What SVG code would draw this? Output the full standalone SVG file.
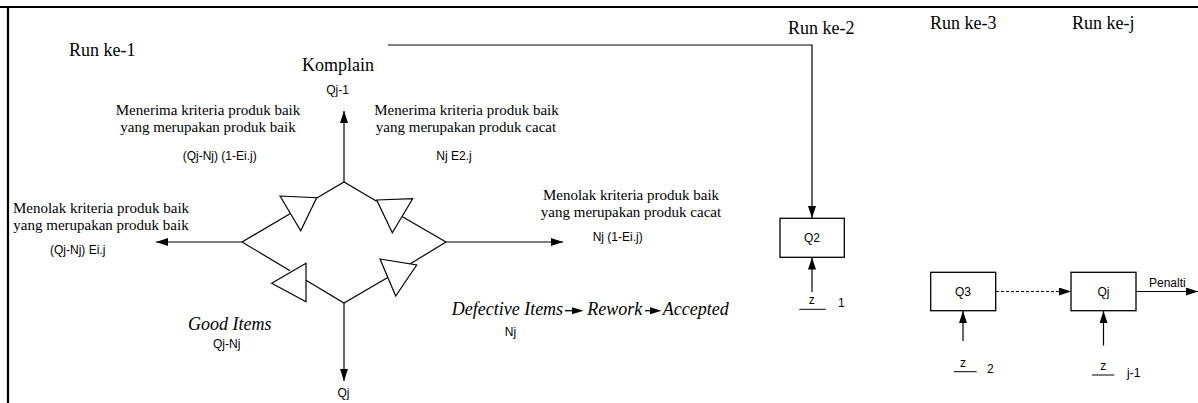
<svg xmlns="http://www.w3.org/2000/svg" width="1198" height="403" viewBox="0 0 1198 403">
  <defs>
    <marker id="arrow" markerUnits="userSpaceOnUse" markerWidth="12" markerHeight="8" refX="12" refY="4" orient="auto">
      <path d="M0,0 L12,4 L0,8 Z" fill="#000"/>
    </marker>
    <style>
      .line { fill: none; stroke: #000; stroke-width: 1.2; }
      .arr { fill: none; stroke: #000; stroke-width: 1.2; marker-end: url(#arrow); }
      .dash { stroke-dasharray: 3 2; }
      .valve { fill: #fff; stroke: #000; stroke-width: 1.2; }
      .box { fill: #fff; stroke: #000; stroke-width: 1.3; }
      .serif { font-family: "Liberation Serif", "Times New Roman", serif; fill: #000; }
      .run { font-size: 18px; }
      .desc { font-size: 15px; text-anchor: middle; }
      .ital { font-size: 18px; font-style: italic; }
      .sans { font-family: "Liberation Sans", Arial, sans-serif; font-size: 12px; fill: #000; }
      .mid { text-anchor: middle; }
    </style>
  </defs>

  <rect width="1198" height="403" fill="#fff"/>

  <!-- page frame (top and left edges) -->
  <g id="frame">
    <line x1="0" y1="7" x2="1198" y2="7" stroke="#000" stroke-width="2.2"/>
    <line x1="8" y1="6" x2="8" y2="403" stroke="#000" stroke-width="2.2"/>
  </g>

  <!-- run headings -->
  <g id="run-labels" class="serif run">
    <text x="69" y="56">Run ke-1</text>
    <text x="788" y="34">Run ke-2</text>
    <text x="930" y="29">Run ke-3</text>
    <text x="1072" y="29">Run ke-j</text>
  </g>

  <!-- inspection network of run 1 -->
  <g id="inspection-network">
    <polyline class="line" points="242,242 290,213.8"/>
    <polyline class="line" points="316.7,198 344,182 376.7,201.2"/>
    <polyline class="line" points="402,216.5 446,242"/>
    <polyline class="line" points="242,242 290,270.7"/>
    <polyline class="line" points="306,280.3 344,303 387.7,277.5"/>
    <polyline class="line" points="410,264 446,242"/>
    <polygon class="valve" points="280,196 316.7,197.7 300.7,230.7"/>
    <polygon class="valve" points="376.7,200 412.7,198.7 392.3,232.7"/>
    <polygon class="valve" points="271.7,283.3 306,263.3 306,301.7"/>
    <polygon class="valve" points="380,259 416.7,265 395.7,296"/>
  </g>

  <!-- connectors -->
  <g id="connectors">
    <line class="arr" x1="344" y1="182" x2="344" y2="111"/>
    <line class="arr" x1="344" y1="303" x2="344" y2="381"/>
    <line class="arr" x1="242" y1="242" x2="156" y2="242"/>
    <line class="arr" x1="446" y1="242" x2="563" y2="242"/>
    <polyline class="arr" points="388,45 812,45 812,218"/>
    <line class="arr" x1="812" y1="292" x2="812" y2="257.5"/>
    <line class="arr" x1="963" y1="341" x2="963" y2="311"/>
    <line class="arr" x1="1103.5" y1="345.5" x2="1103.5" y2="311"/>
    <line class="arr dash" x1="996" y1="291.5" x2="1071" y2="291.5"/>
    <line class="arr" x1="1136" y1="291.5" x2="1198" y2="291.5"/>
  </g>

  <!-- flow labels around the network -->
  <g id="network-labels">
    <text class="serif" x="302" y="71" font-size="18">Komplain</text>
    <text class="sans mid" x="337.5" y="94">Qj-1</text>

    <text class="serif desc" x="208" y="115">Menerima kriteria produk baik</text>
    <text class="serif desc" x="208" y="132">yang merupakan produk baik</text>
    <text class="sans mid" x="219.7" y="160">(Qj-Nj) (1-Ei.j)</text>

    <text class="serif desc" x="466.5" y="115">Menerima kriteria produk baik</text>
    <text class="serif desc" x="466" y="132">yang merupakan produk cacat</text>
    <text class="sans mid" x="454" y="159.5">Nj E2.j</text>

    <text class="serif desc" x="101" y="213">Menolak kriteria produk baik</text>
    <text class="serif desc" x="101" y="230">yang merupakan produk baik</text>
    <text class="sans mid" x="77.7" y="253.5">(Qj-Nj) Ei.j</text>

    <text class="serif desc" x="631" y="199.5">Menolak kriteria produk baik</text>
    <text class="serif desc" x="631" y="216.5">yang merupakan produk cacat</text>
    <text class="sans mid" x="617.7" y="241">Nj (1-Ei.j)</text>

    <text class="serif ital mid" x="229.7" y="329.5">Good Items</text>
    <text class="sans mid" x="226.7" y="348">Qj-Nj</text>
    <text class="sans mid" x="343.5" y="396.5">Qj</text>

    <text class="serif ital" x="451.7" y="315">Defective Items</text>
    <text class="serif ital" x="587.3" y="315">Rework</text>
    <text class="serif ital" x="662.7" y="315">Accepted</text>
    <g id="rework-arrows">
      <line x1="565" y1="310.7" x2="573" y2="310.7" stroke="#000" stroke-width="1.3"/>
      <path d="M572,307.2 L583.5,310.7 L572,314.2 Z" fill="#000"/>
      <line x1="645" y1="310.7" x2="651" y2="310.7" stroke="#000" stroke-width="1.3"/>
      <path d="M650,307.2 L661.5,310.7 L650,314.2 Z" fill="#000"/>
    </g>
    <text class="sans mid" x="510.5" y="336">Nj</text>
  </g>

  <!-- run 2 -->
  <g id="node-q2">
    <rect class="box" x="780" y="218.3" width="64.3" height="39"/>
    <text class="sans mid" x="812" y="242">Q2</text>
  </g>
  <g id="input-z1">
    <text class="sans mid" x="811.7" y="304">z</text>
    <line x1="799.3" y1="309.3" x2="825.7" y2="309.3" stroke="#000" stroke-width="1"/>
    <text class="sans" x="838" y="306.5">1</text>
  </g>

  <!-- run 3 -->
  <g id="node-q3">
    <rect class="box" x="930.7" y="272.3" width="65" height="38.4"/>
    <text class="sans mid" x="963" y="296">Q3</text>
  </g>
  <g id="input-z2">
    <text class="sans mid" x="963" y="366.5">z</text>
    <line x1="954" y1="371.7" x2="976.7" y2="371.7" stroke="#000" stroke-width="1"/>
    <text class="sans" x="987" y="372.7">2</text>
  </g>

  <!-- run j -->
  <g id="node-qj">
    <rect class="box" x="1071" y="272.3" width="65" height="38.4"/>
    <text class="sans mid" x="1103.5" y="296">Qj</text>
    <text class="sans" x="1149" y="287">Penalti</text>
  </g>
  <g id="input-zj">
    <text class="sans mid" x="1103.3" y="370">z</text>
    <line x1="1092" y1="375" x2="1114.3" y2="375" stroke="#000" stroke-width="1"/>
    <text class="sans" x="1127" y="376.5">j-1</text>
  </g>
</svg>
